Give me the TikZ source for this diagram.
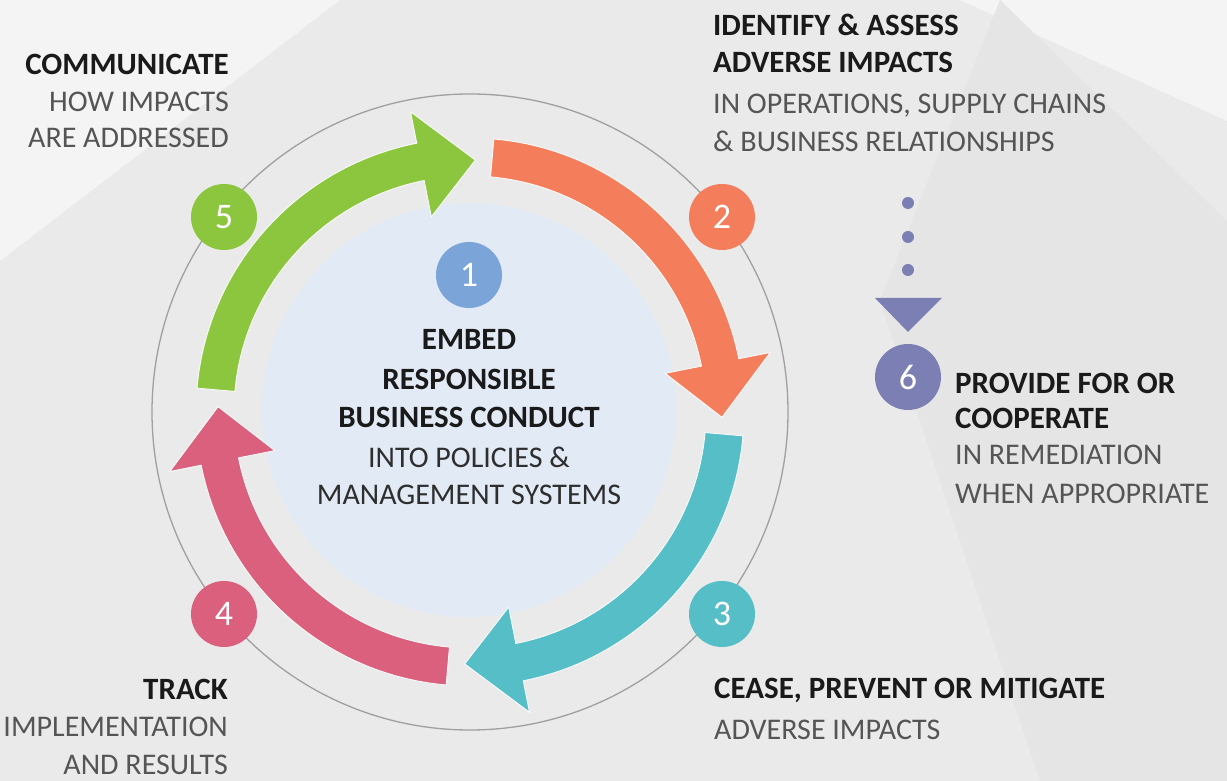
\documentclass[tikz,border=0pt]{standalone}
\usepackage{fontspec}
\setmainfont{Carlito}
\definecolor{cgreen}{HTML}{8CC63F}
\definecolor{corange}{HTML}{F47D5B}
\definecolor{cteal}{HTML}{55BEC6}
\definecolor{cpink}{HTML}{DB607D}
\definecolor{cblue}{HTML}{7BA4D9}
\definecolor{cpurple}{HTML}{7C7FB4}
\definecolor{cdisk}{HTML}{E2EAF6}
\definecolor{cbg}{HTML}{EAEAEA}
\definecolor{cbglight}{HTML}{F4F4F4}
\definecolor{cbgdark}{HTML}{E5E5E5}
\definecolor{cring}{HTML}{A0A0A0}
\definecolor{ctxt}{HTML}{1A1A1A}
\definecolor{clight}{HTML}{555555}
\definecolor{cmid}{HTML}{2E2E2E}
\tikzset{
  hd/.style={font=\fontsize{31}{37}\selectfont\bfseries, text=ctxt, inner sep=0pt},
  sub/.style={font=\fontsize{30}{37}\selectfont, text=clight, inner sep=0pt},
  subc/.style={sub, text=cmid},
  badge/.style={circle, minimum size=66pt, inner sep=0pt, text=white,
    font=\fontsize{36}{36}\selectfont},
  dotmark/.style={circle, fill=cpurple, minimum size=12pt, inner sep=0pt},
}
\begin{document}
\begin{tikzpicture}[x=1pt,y=1pt]
\useasboundingbox (0,0) rectangle (1227,781);
% background
\fill[cbg] (0,0) rectangle (1227,781);
\fill[cbglight] (0,781) -- (340,781) -- (0,520) -- cycle;
\fill[cbglight] (960,781) -- (1227,781) -- (1227,660) -- cycle;
\fill[cbgdark] (1000,781) -- (1227,560) -- (1227,0) -- (1040,0) -- (880,480) -- cycle;
% ring and disk
\coordinate (c) at (470,369);
\draw[cring, line width=1.3pt] (c) circle[radius=318];
\fill[cdisk] (469,371) circle[radius=207];
% arrows
\begin{scope}[shift={(470,369)}]
\foreach \k/\col in {0/corange,1/cteal,2/cpink,3/cgreen}{
  \pgfmathsetmacro\ta{85-90*\k}
  \pgfmathsetmacro\tb{11.2-90*\k}
  \pgfmathsetmacro\tt{-1.2-90*\k}
  \fill[fill=\col, draw=white, line width=0.8pt]
    (\ta:274) arc[start angle=\ta, end angle=\tb, radius=274]
    -- (\tb:306) -- (\tt:252) -- (\tb:199) -- (\tb:236)
    arc[start angle=\tb, end angle=\ta, radius=236] -- cycle;
}
\end{scope}
% badges
\node[badge, fill=cblue]   (b1) at (469,506) {1};
\node[badge, fill=corange] (b2) at (722,564) {2};
\node[badge, fill=cteal]   (b3) at (722,167) {3};
\node[badge, fill=cpink]   (b4) at (224,167) {4};
\node[badge, fill=cgreen]  (b5) at (224,564) {5};
\node[badge, fill=cpurple] (b6) at (908,404) {6};
% dotted pointer to 6
\node[dotmark] (d1) at (908,578) {};
\node[dotmark] (d2) at (908,544) {};
\node[dotmark] (d3) at (908,511) {};
\fill[cpurple] (875,483) -- (942,483) -- (908,449) -- cycle;
% centre text
\node[hd, anchor=base] (c1) at (469,431) {EMBED};
\node[hd, anchor=base] (c2) at (469,391) {RESPONSIBLE};
\node[hd, anchor=base] (c3) at (469,353) {BUSINESS CONDUCT};
\node[subc, anchor=base] (c4) at (469,313) {INTO POLICIES \&};
\node[subc, anchor=base] (c5) at (469,276) {MANAGEMENT SYSTEMS};
% step 5
\node[hd, anchor=base east] (t5a) at (229,706) {COMMUNICATE};
\node[sub, anchor=base east] (t5b) at (229,669.5) {HOW IMPACTS};
\node[sub, anchor=base east] (t5c) at (229,633) {ARE ADDRESSED};
% step 2
\node[hd, anchor=base west] (t2a) at (713,745) {IDENTIFY \& ASSESS};
\node[hd, anchor=base west] (t2b) at (713,708) {ADVERSE IMPACTS};
\node[sub, anchor=base west] (t2c) at (713,667) {IN OPERATIONS, SUPPLY CHAINS};
\node[sub, anchor=base west] (t2d) at (713,629) {\& BUSINESS RELATIONSHIPS};
% step 6
\node[hd, anchor=base west] (t6a) at (955,387) {PROVIDE FOR OR};
\node[hd, anchor=base west] (t6b) at (955,352) {COOPERATE};
\node[sub, anchor=base west] (t6c) at (955,316) {IN REMEDIATION};
\node[sub, anchor=base west] (t6d) at (955,277) {WHEN APPROPRIATE};
% step 4
\node[hd, anchor=base east] (t4a) at (228,81) {TRACK};
\node[sub, anchor=base east] (t4b) at (228,44) {IMPLEMENTATION};
\node[sub, anchor=base east] (t4c) at (228,6) {AND RESULTS};
% step 3
\node[hd, anchor=base west] (t3a) at (714,82) {CEASE, PREVENT OR MITIGATE};
\node[sub, anchor=base west] (t3b) at (714,41) {ADVERSE IMPACTS};
\end{tikzpicture}
\end{document}
